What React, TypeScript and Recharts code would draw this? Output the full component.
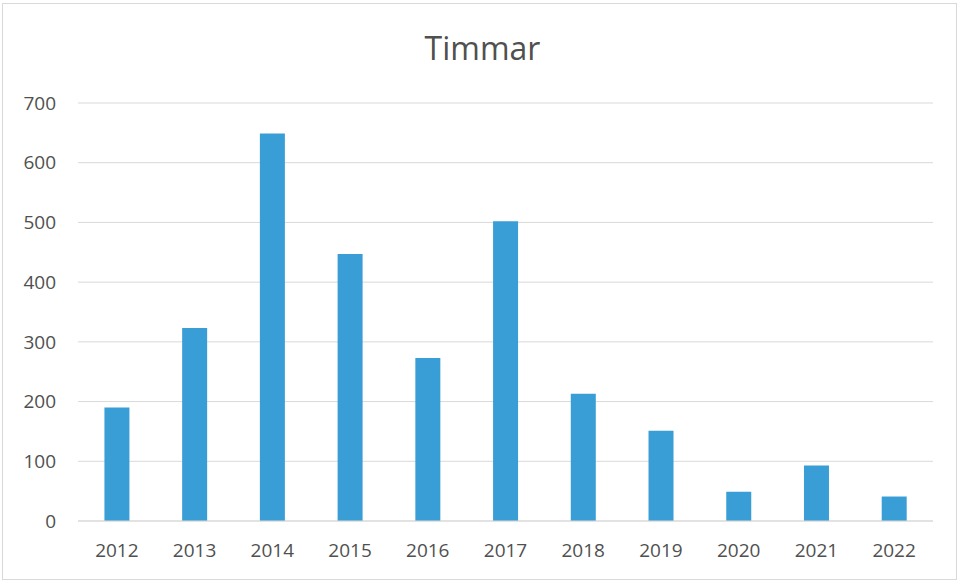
import { Bar, BarChart, CartesianGrid, XAxis, YAxis } from 'recharts';

const years = ['2012', '2013', '2014', '2015', '2016', '2017', '2018', '2019', '2020', '2021', '2022'];
const hours = [190, 323, 649, 447, 273, 502, 213, 151, 49, 93, 41];
const yTicks = [0, 100, 200, 300, 400, 500, 600, 700];

const data = years.map((year, i) => ({ year, hours: hours[i] }));

const font = '"Open Sans", sans-serif';
const textColor = '#505050';

export default function App() {
  return (
    <div style={{ position: 'absolute', left: 0, top: 0, width: 965, height: 584, background: '#fff' }}>
      <div
        style={{
          position: 'absolute',
          left: 2,
          top: 3,
          width: 955,
          height: 577,
          border: '1px solid #d9d9d9',
          boxSizing: 'border-box',
        }}
      />
      <div
        style={{
          position: 'absolute',
          left: 0,
          top: 26,
          width: 965,
          textAlign: 'center',
          fontFamily: font,
          fontSize: 32,
          color: textColor,
        }}
      >
        Timmar
      </div>
      <div style={{ position: 'absolute', left: 0, top: 0 }}>
        <BarChart
          width={965}
          height={584}
          data={data}
          margin={{ top: 103, right: 32, bottom: 33, left: 0 }}
          barCategoryGap="34%"
        >
          <CartesianGrid vertical={false} stroke="#d9d9d9" />
          <XAxis
            dataKey="year"
            height={30}
            axisLine={{ stroke: '#d9d9d9' }}
            tickLine={false}
            tickMargin={17}
            tick={{ fontSize: 19, fontFamily: font, fill: textColor }}
            interval={0}
          />
          <YAxis
            width={78}
            domain={[0, 700]}
            ticks={yTicks}
            axisLine={false}
            tickLine={false}
            tickSize={0}
            tickMargin={22}
            tick={{ fontSize: 19, fontFamily: font, fill: textColor }}
          />
          <Bar dataKey="hours" fill="#3a9ed6" isAnimationActive={false} />
        </BarChart>
      </div>
    </div>
  );
}
